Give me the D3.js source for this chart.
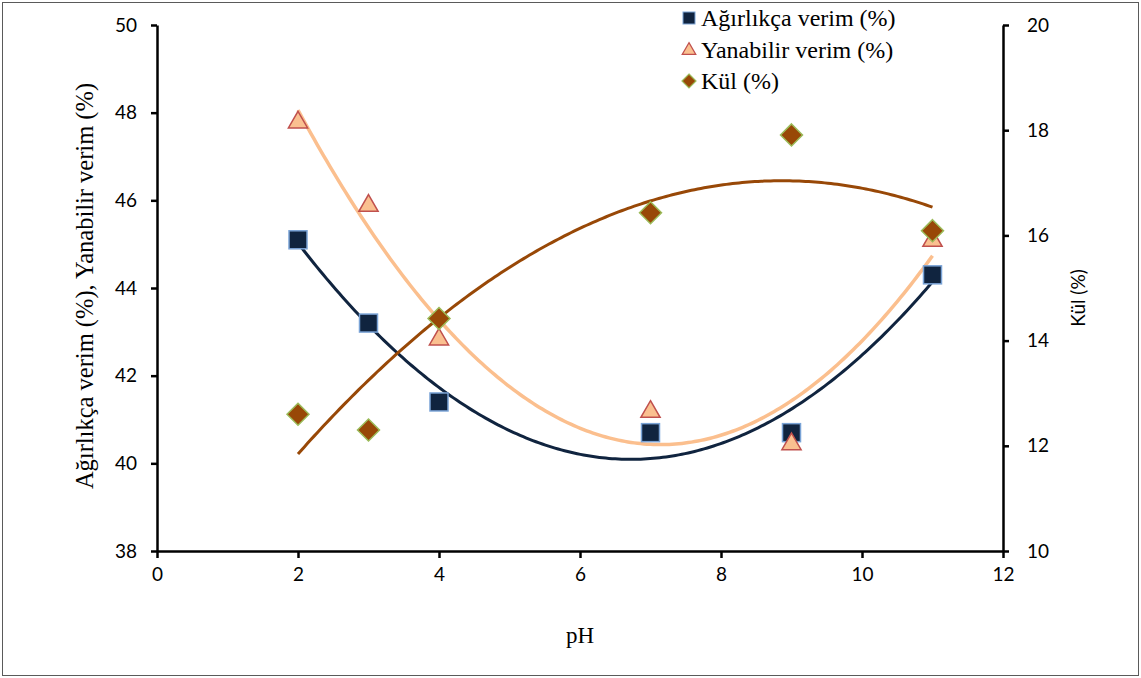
<!DOCTYPE html>
<html>
<head>
<meta charset="utf-8">
<script src="https://cdn.jsdelivr.net/npm/d3@7"></script>
<style>
  html, body { margin: 0; padding: 0; background: #fff; }
  svg { display: block; }
  .serif { font-family: "Liberation Serif", "Times New Roman", serif; }
  .sans { font-family: Lato, "Open Sans", sans-serif; }
</style>
</head>
<body>
<svg id="chart" width="1141" height="678"></svg>
<script>
// pH values of the samples
const pH = [2, 3, 4, 7, 9, 11];
// Weight yield (%) — left axis
const agirlikca = [45.1, 43.2, 41.4, 40.7, 40.7, 44.3];
// Combustible yield (%) — left axis
const yanabilir = [47.8, 45.9, 42.85, 41.2, 40.46, 45.1];
// Ash (%) — right axis
const kul = [12.6, 12.3, 14.42, 16.43, 17.91, 16.09];

const xTicks = [0, 2, 4, 6, 8, 10, 12];
const yLeftTicks = [38, 40, 42, 44, 46, 48, 50];
const yRightTicks = [10, 12, 14, 16, 18, 20];

const svg = d3.select("#chart");
const W = 1141, H = 678;
const m = { left: 157, right: 1003, top: 25, bottom: 551 };

const x = d3.scaleLinear().domain([0, 12]).range([m.left, m.right]);
const yL = d3.scaleLinear().domain([38, 50]).range([m.bottom, m.top]);
const yR = d3.scaleLinear().domain([10, 20]).range([m.bottom, m.top]);

// outer frame
svg.append("rect").attr("x", 2.5).attr("y", 2.5).attr("width", W - 5).attr("height", H - 5)
  .attr("fill", "#fff").attr("stroke", "#5a5a5a").attr("stroke-width", 1);

// second-order least-squares fit, as a spreadsheet polynomial trendline
function quadFit(xs, ys) {
  let s = [0, 0, 0, 0, 0], t = [0, 0, 0];
  xs.forEach((xv, i) => {
    for (let k = 0; k < 5; k++) s[k] += Math.pow(xv, k);
    for (let k = 0; k < 3; k++) t[k] += Math.pow(xv, k) * ys[i];
  });
  const A = [[s[0], s[1], s[2], t[0]], [s[1], s[2], s[3], t[1]], [s[2], s[3], s[4], t[2]]];
  for (let i = 0; i < 3; i++) {
    let p = i;
    for (let r = i + 1; r < 3; r++) if (Math.abs(A[r][i]) > Math.abs(A[p][i])) p = r;
    [A[i], A[p]] = [A[p], A[i]];
    for (let r = 0; r < 3; r++) {
      if (r === i) continue;
      const f = A[r][i] / A[i][i];
      for (let c = i; c < 4; c++) A[r][c] -= f * A[i][c];
    }
  }
  const c = A.map((row, i) => row[3] / row[i]);
  return v => c[0] + c[1] * v + c[2] * v * v;
}

function trend(ys, yScale, color, width) {
  const f = quadFit(pH, ys);
  const x0 = d3.min(pH), x1 = d3.max(pH);
  const pts = d3.range(0, 201).map(i => x0 + (x1 - x0) * i / 200);
  svg.append("path")
    .attr("d", d3.line().x(v => x(v)).y(v => yScale(f(v)))(pts))
    .attr("fill", "none").attr("stroke", color).attr("stroke-width", width);
}

// axes
const gx = svg.append("g").attr("transform", `translate(0,${m.bottom})`)
  .call(d3.axisBottom(x).tickValues(xTicks).tickSize(7).tickPadding(10).tickSizeOuter(0));
const gl = svg.append("g").attr("transform", `translate(${m.left},0)`)
  .call(d3.axisLeft(yL).tickValues(yLeftTicks).tickSize(6).tickPadding(14).tickSizeOuter(0));
const gr = svg.append("g").attr("transform", `translate(${m.right},0)`)
  .call(d3.axisRight(yR).tickValues(yRightTicks).tickSize(6).tickPadding(18).tickSizeOuter(0));
[gx, gl, gr].forEach(g => {
  g.attr("font-family", null).attr("font-size", null);
  g.select(".domain").attr("stroke", "#000").attr("stroke-width", 2.5);
  g.selectAll(".tick line").attr("stroke", "#000").attr("stroke-width", 2.5);
  g.selectAll(".tick text").attr("fill", "#000").attr("class", "sans").style("font-size", "19px");
});

// trend lines
trend(agirlikca, yL, "#10243f", 3);
trend(yanabilir, yL, "#fbbf8e", 3.5);
trend(kul, yR, "#984807", 3);

// markers
const sq = 18;
svg.append("g").selectAll("rect").data(pH).join("rect")
  .attr("x", d => x(d) - sq / 2).attr("y", (d, i) => yL(agirlikca[i]) - sq / 2)
  .attr("width", sq).attr("height", sq)
  .attr("fill", "#10243f").attr("stroke", "#7aa3d6").attr("stroke-width", 1.5);

const tri = d3.symbol().type(d3.symbolTriangle).size(160);
svg.append("g").selectAll("path").data(pH).join("path")
  .attr("d", tri)
  .attr("transform", (d, i) => `translate(${x(d)},${yL(yanabilir[i]) + 1})`)
  .attr("fill", "#fac090").attr("stroke", "#c0504d").attr("stroke-width", 1.5);

const dia = 11;
svg.append("g").selectAll("path").data(pH).join("path")
  .attr("d", `M0,${-dia}L${dia},0L0,${dia}L${-dia},0Z`)
  .attr("transform", (d, i) => `translate(${x(d)},${yR(kul[i])})`)
  .attr("fill", "#984807").attr("stroke", "#9bbb59").attr("stroke-width", 1.5);

// axis titles
svg.append("text").attr("class", "serif").attr("x", 580).attr("y", 643)
  .attr("text-anchor", "middle").style("font-size", "23px").text("pH");
svg.append("text").attr("class", "serif").attr("transform", "translate(93,286) rotate(-90)")
  .attr("text-anchor", "middle").style("font-size", "24.5px")
  .text("Ağırlıkça verim (%),  Yanabilir verim (%)");
svg.append("text").attr("class", "sans").attr("transform", "translate(1085,298) rotate(-90)")
  .attr("text-anchor", "middle").style("font-size", "19px")
  .text("Kül (%)");

// legend
const legend = [
  { label: "Ağırlıkça verim (%)", shape: "square" },
  { label: "Yanabilir verim (%)", shape: "triangle" },
  { label: "Kül (%)", shape: "diamond" }
];
const lg = svg.append("g");
legend.forEach((d, i) => {
  const cy = 18 + i * 31.5;
  const g = lg.append("g").attr("transform", `translate(689,${cy})`);
  if (d.shape === "square") {
    g.append("rect").attr("x", -6).attr("y", -6).attr("width", 12).attr("height", 12)
      .attr("fill", "#10243f").attr("stroke", "#7aa3d6").attr("stroke-width", 1);
  } else if (d.shape === "triangle") {
    g.append("path").attr("d", d3.symbol().type(d3.symbolTriangle).size(80)())
      .attr("transform", "translate(0,1)")
      .attr("fill", "#fac090").attr("stroke", "#c0504d").attr("stroke-width", 1.2);
  } else {
    g.append("path").attr("d", "M0,-7L7,0L0,7L-7,0Z")
      .attr("fill", "#984807").attr("stroke", "#9bbb59").attr("stroke-width", 1.2);
  }
  g.append("text").attr("class", "serif").attr("x", 12).attr("y", 8)
    .style("font-size", "24px").text(d.label);
});
</script>
</body>
</html>
